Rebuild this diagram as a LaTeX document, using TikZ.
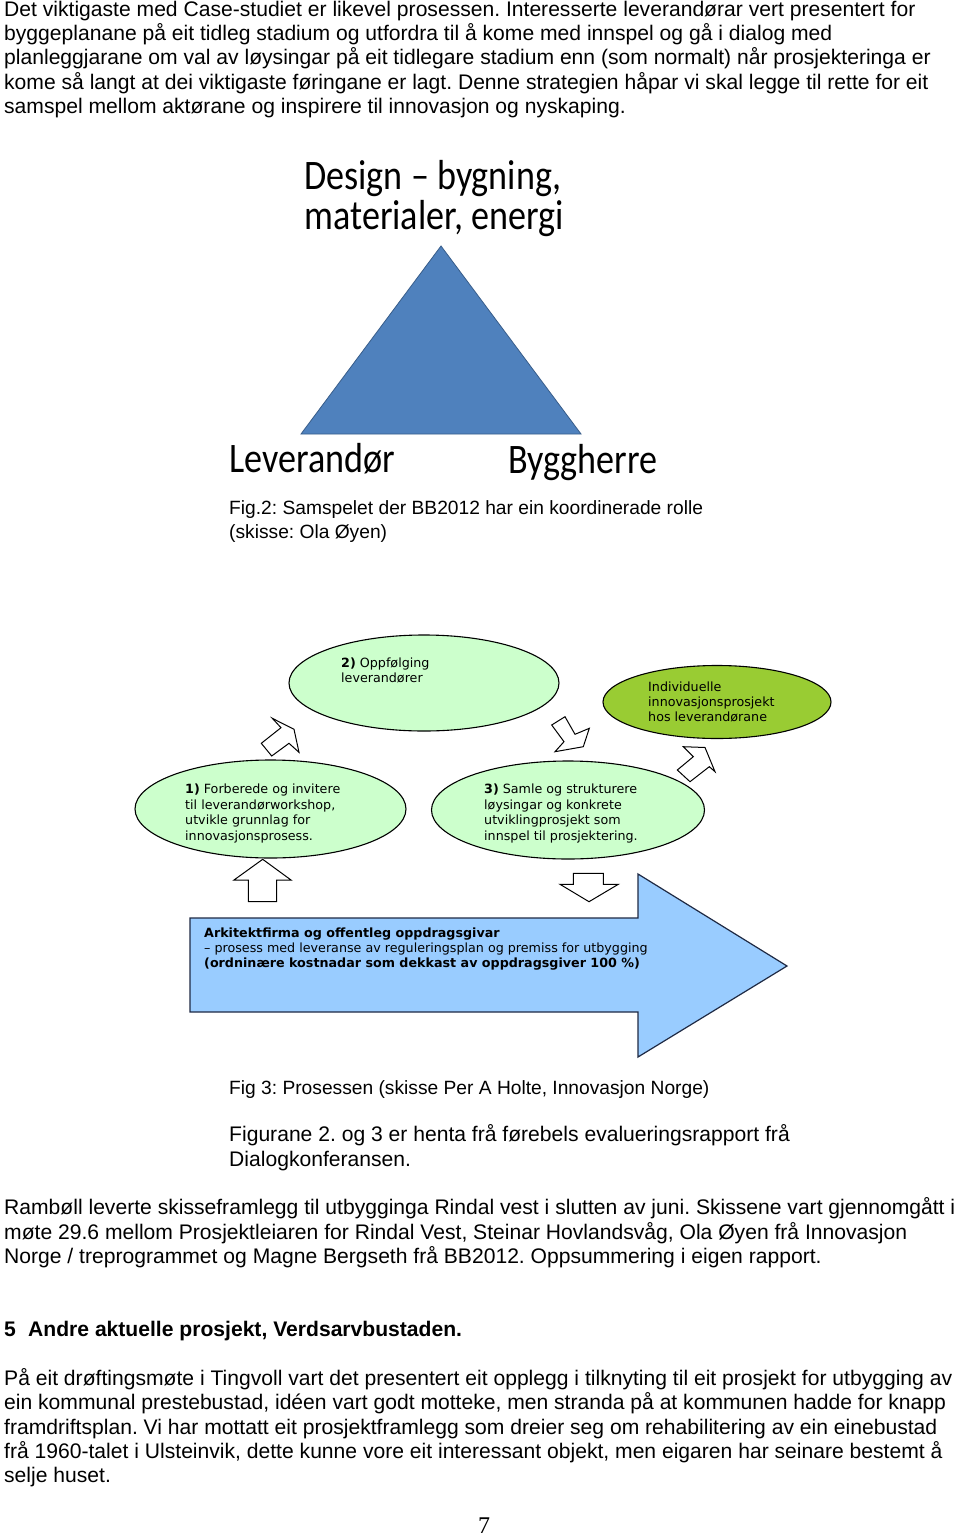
\documentclass[tikz,border=0pt]{standalone}
\usepackage{fontspec}
\setmainfont{Liberation Sans}
\newfontfamily\calfont{Carlito}
\newfontfamily\verdfont{DejaVu Sans}
\newfontfamily\serffont{Liberation Serif}
\usetikzlibrary{shapes.geometric}
\definecolor{lgreen}{HTML}{CCFFCC}
\definecolor{dgreen}{HTML}{99CC33}
\definecolor{lblue}{HTML}{99CCFF}
\definecolor{triblue}{HTML}{4F81BD}
\definecolor{triedge}{HTML}{385D8A}
\definecolor{navyedge}{HTML}{1F2A44}
\tikzset{
  body/.style={anchor=base west, inner sep=0pt, font=\fontsize{21.1}{24}\selectfont},
  bodybold/.style={anchor=base west, inner sep=0pt, font=\fontsize{21.1}{24}\selectfont\bfseries},
  captext/.style={anchor=base west, inner sep=0pt, font=\fontsize{19.2}{24}\selectfont},
  caltext/.style={inner sep=0pt, font=\calfont\fontsize{42}{42}\selectfont},
  etext/.style={anchor=base west, inner sep=0pt, font=\verdfont\fontsize{12.7}{15}\selectfont},
  bubble/.style={ellipse, draw=black, line width=1.1pt, fill=lgreen, inner sep=0pt},
  blockarrow/.style={draw=black, line width=1pt, fill=white, line join=miter},
}
\begin{document}
\frenchspacing
\begin{tikzpicture}[x=1pt,y=-1pt]
\useasboundingbox (0,0) rectangle (960,1538);
\fill[white] (0,0) rectangle (960,1538);

% paragraph 1
\node[body] (p1a) at (4,16.5) {Det viktigaste med Case-studiet er likevel prosessen. Interesserte leverandørar vert presentert for};
\node[body] (p1b) at (4,40.8) {byggeplanane på eit tidleg stadium og utfordra til å kome med innspel og gå i dialog med};
\node[body] (p1c) at (4,65) {planleggjarane om val av løysingar på eit tidlegare stadium enn (som normalt) når prosjekteringa er};
\node[body] (p1d) at (4,89.2) {kome så langt at dei viktigaste føringane er lagt. Denne strategien håpar vi skal legge til rette for eit};
\node[body] (p1e) at (4,113.4) {samspel mellom aktørane og inspirere til innovasjon og nyskaping.};

% figure 2: triangle
\node[caltext, anchor=base] (d1) at (433,190) {\scalebox{0.86}[1]{Design – bygning,}};
\node[caltext, anchor=base] (d2) at (434,230) {\scalebox{0.86}[1]{materialer, energi}};
\draw[fill=triblue, draw=triedge, line width=0.8pt] (441,246) -- (581,434) -- (301,434) -- cycle;
\node[caltext, anchor=base west] (lev) at (229,472) {\scalebox{0.86}[1]{Leverandør}};
\node[caltext, anchor=base west] (bh) at (508,473) {\scalebox{0.86}[1]{Byggherre}};
\node[captext] (cap2a) at (229,514.5) {Fig.2: Samspelet der BB2012 har ein koordinerade rolle};
\node[captext] (cap2b) at (229,538) {(skisse: Ola Øyen)};

% figure 3: bubbles
\node[bubble, minimum width=270pt, minimum height=96pt] (e2) at (424,683) {};
\node[bubble, fill=dgreen, minimum width=228pt, minimum height=73pt] (ei) at (717,702) {};
\node[bubble, minimum width=271pt, minimum height=98pt] (e1) at (270.5,809) {};
\node[bubble, minimum width=273pt, minimum height=98pt] (e3) at (568,810) {};

\node[etext] (t2a) at (341,667.5) {\textbf{2)} Oppfølging};
\node[etext] (t2b) at (341,682.5) {leverandører};

\node[etext] (tia) at (648,691.5) {Individuelle};
\node[etext] (tib) at (648,706.5) {innovasjonsprosjekt};
\node[etext] (tic) at (648,721.5) {hos leverandørane};

\node[etext] (t1a) at (185,793.5) {\textbf{1)} Forberede og invitere};
\node[etext] (t1b) at (185,809) {til leverandørworkshop,};
\node[etext] (t1c) at (185,824.5) {utvikle grunnlag for};
\node[etext] (t1d) at (185,840) {innovasjonsprosess.};

\node[etext] (t3a) at (484,793.5) {\textbf{3)} Samle og strukturere};
\node[etext] (t3b) at (484,809) {løysingar og konkrete};
\node[etext] (t3c) at (484,824.5) {utviklingprosjekt som};
\node[etext] (t3d) at (484,840) {innspel til prosjektering.};

% block arrows
\draw[blockarrow] (272.3,718.3) -- (294,729.3) -- (299,752.3) -- (289,743.3) -- (271.7,756) -- (261.3,743.3) -- (281,727.7) -- cycle;
\draw[blockarrow] (551.7,725) -- (565,716.7) -- (575,734.3) -- (589.3,728.3) -- (583.3,746.7) -- (555,751.7) -- (564,741.7) -- cycle;
\draw[blockarrow] (683.3,746.7) -- (705,747.5) -- (715,771.7) -- (709.3,766.7) -- (690,781.7) -- (677.3,770) -- (693.3,756.7) -- cycle;
\draw[blockarrow] (262.7,859.3) -- (291,880) -- (276.7,880) -- (276.7,901.7) -- (248.3,901.7) -- (248.3,880) -- (234,880) -- cycle;
\draw[blockarrow] (573.3,873.3) -- (603.3,873.3) -- (603.3,884.3) -- (618.3,884.3) -- (589,901.7) -- (560,884.3) -- (573.3,884.3) -- cycle;

% big arrow
\draw[fill=lblue, draw=navyedge, line width=1.2pt, line join=miter] (190,918) -- (638,918) -- (638,874) -- (787,966) -- (638,1057) -- (638,1012) -- (190,1012) -- cycle;
\node[etext] (ba1) at (204,937.5) {\textbf{Arkitektfirma og offentleg oppdragsgivar}};
\node[etext] (ba2) at (204,952.5) {– prosess med leveranse av reguleringsplan og premiss for utbygging};
\node[etext] (ba3) at (204,967.5) {\textbf{(ordninære kostnadar som dekkast av oppdragsgiver 100 \%)}};

\node[captext] (cap3) at (229,1094.5) {Fig 3: Prosessen (skisse Per A Holte, Innovasjon Norge)};
\node[body] (fa) at (229,1141.5) {Figurane 2. og 3 er henta frå førebels evalueringsrapport frå};
\node[body] (fb) at (229,1166) {Dialogkonferansen.};

% paragraph 2
\node[body] (p2a) at (4,1214.5) {Rambøll leverte skisseframlegg til utbygginga Rindal vest i slutten av juni. Skissene vart gjennomgått i};
\node[body] (p2b) at (4,1239) {møte 29.6 mellom Prosjektleiaren for Rindal Vest, Steinar Hovlandsvåg, Ola Øyen frå Innovasjon};
\node[body] (p2c) at (4,1263.5) {Norge / treprogrammet og Magne Bergseth frå BB2012. Oppsummering i eigen rapport.};

% heading
\node[bodybold] (h5n) at (4,1336.5) {5};
\node[bodybold] (h5) at (28,1336.5) {Andre aktuelle prosjekt, Verdsarvbustaden.};

% paragraph 3
\node[body] (p3a) at (4,1385.5) {På eit drøftingsmøte i Tingvoll vart det presentert eit opplegg i tilknyting til eit prosjekt for utbygging av};
\node[body] (p3b) at (4,1409.8) {ein kommunal prestebustad, idéen vart godt motteke, men stranda på at kommunen hadde for knapp};
\node[body] (p3c) at (4,1434.1) {framdriftsplan. Vi har mottatt eit prosjektframlegg som dreier seg om rehabilitering av ein einebustad};
\node[body] (p3d) at (4,1458.4) {frå 1960-talet i Ulsteinvik, dette kunne vore eit interessant objekt, men eigaren har seinare bestemt å};
\node[body] (p3e) at (4,1482.7) {selje huset.};

\node[anchor=base, inner sep=0pt, font=\serffont\fontsize{24}{24}\selectfont] (pg) at (484,1533) {7};
\end{tikzpicture}
\end{document}
